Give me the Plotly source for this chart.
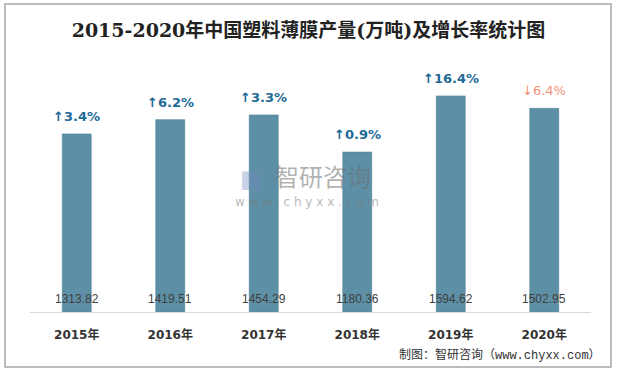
import plotly.graph_objects as go

years = ["2015年", "2016年", "2017年", "2018年", "2019年", "2020年"]
output = [1313.82, 1419.51, 1454.29, 1180.36, 1594.62, 1502.95]
growth = [3.4, 6.2, 3.3, 0.9, 16.4, -6.4]

bar_color = "#5d90a7"
up_color = "#1e6a97"
down_color = "#f2937a"

L, R, T, B = 30, 26, 41, 61
PW, PH = 617 - L - R, 373 - T - B  # plot area size in px
BASE = 373 - B

def px(xp):
    return (xp - L) / PW

def py(yp):
    return (BASE - yp) / PH

fig = go.Figure()
fig.add_trace(go.Bar(
    x=years, y=output, width=0.31,
    marker=dict(color=bar_color, line=dict(color="#4f8199", width=0.6)),
    hoverinfo="skip",
))

anns = []
for yr, v, g in zip(years, output, growth):
    up = g >= 0
    txt = ("↑" if up else "↓") + f"{abs(g):.1f}%"
    anns.append(dict(
        x=yr, y=v, xref="x", yref="y", text=("<b>" + txt + "</b>") if up else txt,
        showarrow=False, yanchor="bottom", yshift=8,
        font=dict(size=13, color=up_color if up else down_color, family="DejaVu Sans, Noto Sans CJK SC"),
    ))
    anns.append(dict(
        x=yr, y=0, xref="x", yref="y", text=f"{v:.2f}",
        showarrow=False, yanchor="bottom", yshift=4,
        font=dict(size=12, color="#404040", family="Liberation Sans, Arial"),
    ))

anns += [
    dict(x=px(603), y=py(355), xref="paper", yref="paper", xanchor="right", yanchor="middle",
         text="制图：智研咨询（www.chyxx.com）", showarrow=False,
         font=dict(size=12, color="#333333", family="Liberation Mono, Noto Sans CJK SC")),
    dict(x=px(323), y=py(175), xref="paper", yref="paper", text="智研咨询", showarrow=False,
         font=dict(size=24, color="rgba(110,110,110,0.55)", family="Noto Sans CJK SC")),
    dict(x=px(307), y=py(202), xref="paper", yref="paper", text="w w w . c h y x x . c o m", showarrow=False,
         font=dict(size=12, color="rgba(120,120,120,0.55)", family="DejaVu Sans")),
    dict(x=px(251), y=py(179), xref="paper", yref="paper", text="■", showarrow=False,
         font=dict(size=24, color="rgba(110,135,190,0.4)", family="DejaVu Sans")),
]

fig.update_layout(
    width=617, height=373,
    margin=dict(l=L, r=R, t=T, b=B),
    paper_bgcolor="white", plot_bgcolor="white",
    showlegend=False,
    title=dict(text="<b>2015-2020年中国塑料薄膜产量(万吨)及增长率统计图</b>",
               x=0.5, xanchor="center", y=1 - 30/373, yanchor="middle",
               font=dict(size=19, color="#222222", family="DejaVu Serif, Noto Sans CJK SC")),
    xaxis=dict(showline=True, linecolor="#d9d9d9", linewidth=1, ticks="",
               ticklabelstandoff=12,
               tickfont=dict(size=12, color="#333333", family="DejaVu Sans, Noto Sans CJK SC"),
               tickprefix="<b>", ticksuffix="</b>"),
    yaxis=dict(range=[0, 2000], visible=False, showgrid=False),
    annotations=anns,
    shapes=[dict(type="rect", xref="paper", yref="paper",
                 x0=px(5), x1=px(611), y0=py(367), y1=py(4),
                 line=dict(color="#a6a6a6", width=1.5))],
)

fig.write_html("out.html", config={"displayModeBar": False},
               post_script="document.body.style.margin='0';")
